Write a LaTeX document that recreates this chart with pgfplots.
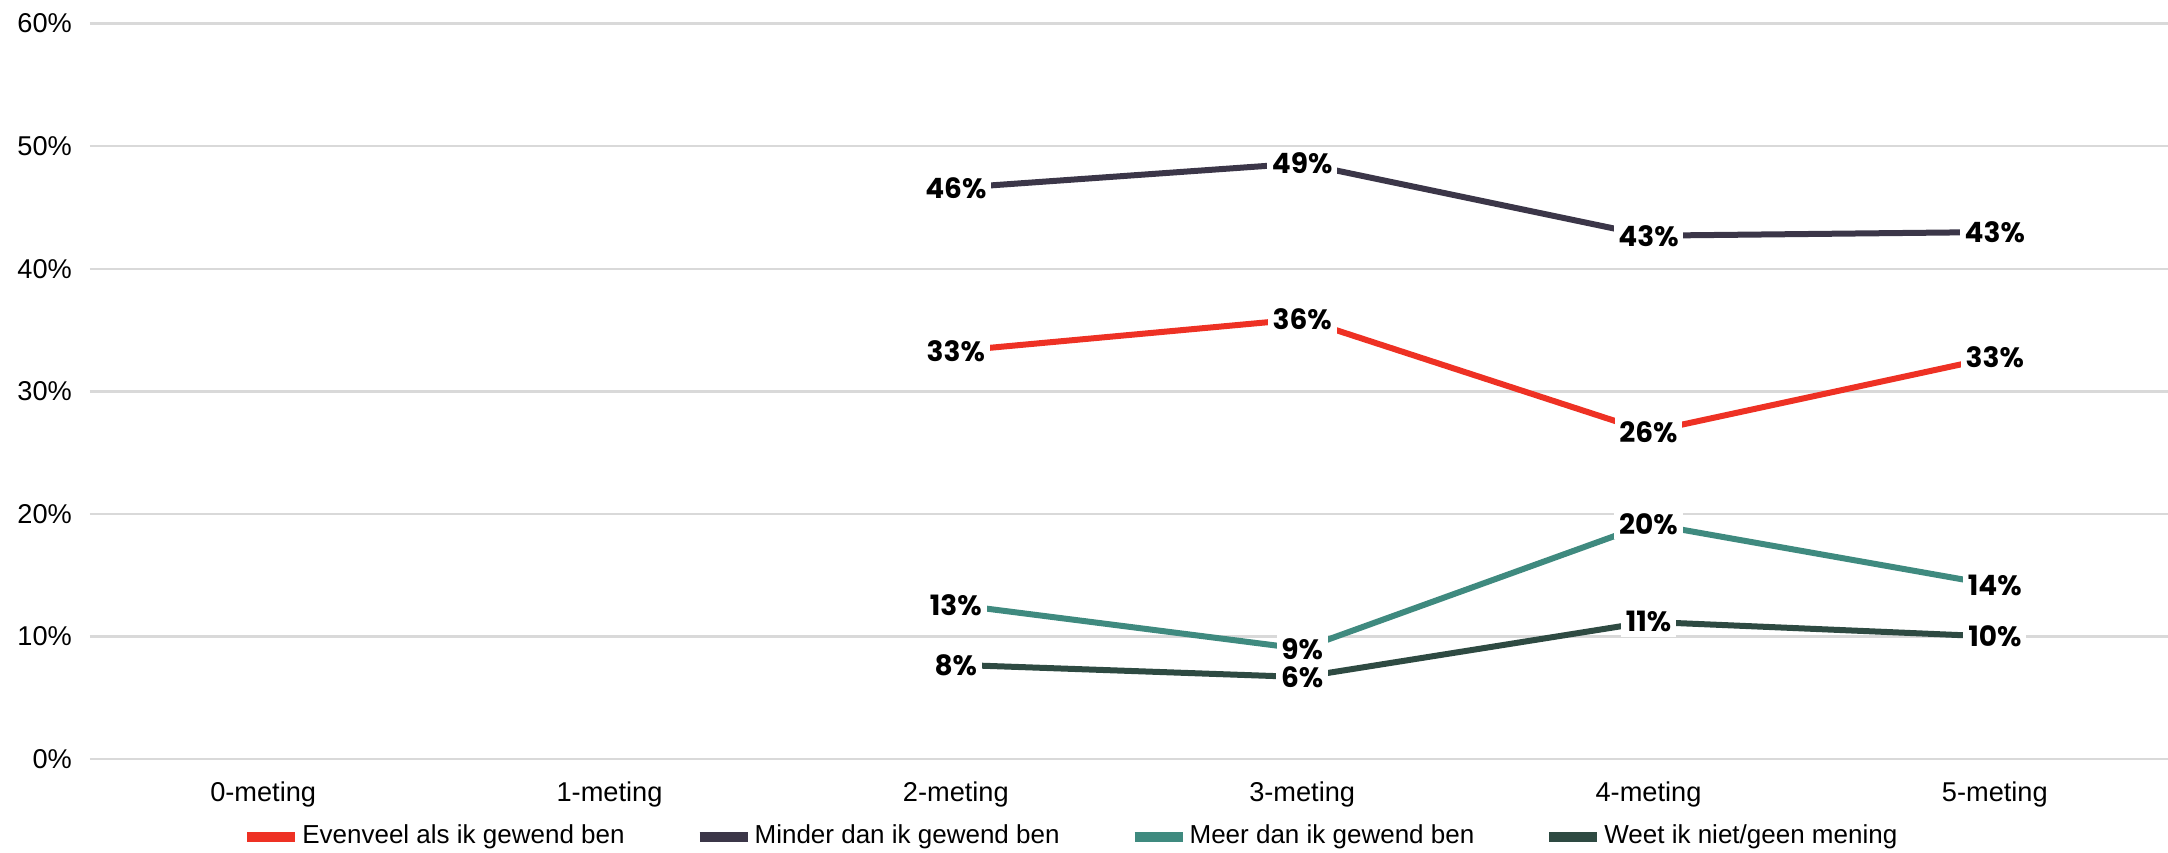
\documentclass[border=0pt]{standalone}
\usepackage{fontspec}
\setmainfont{Liberation Sans}
\newfontfamily\poppins{Poppins}
\usepackage{pgfplots}
\pgfplotsset{compat=1.18}
\definecolor{cRed}{HTML}{EE3124}
\definecolor{cPur}{HTML}{3B3648}
\definecolor{cTeal}{HTML}{3F8A7F}
\definecolor{cDark}{HTML}{2E4A42}
\definecolor{cGrid}{HTML}{D9D9D9}
\begin{document}
\begin{tikzpicture}
\begin{axis}[
  scale only axis,
  width=519.5pt, height=183.9pt,
  xmin=-0.5, xmax=5.5,
  ymin=0, ymax=60,
  axis line style={draw=none},
  tick style={draw=none},
  xtick={0,1,2,3,4,5},
  xticklabels={0-meting,1-meting,2-meting,3-meting,4-meting,5-meting},
  ytick={0,10,20,30,40,50,60},
  yticklabels={0\%,10\%,20\%,30\%,40\%,50\%,60\%},
  ymajorgrids,
  major grid style={cGrid, line width=0.6pt},
  tick label style={font=\fontsize{6.8}{8}\selectfont},
  xticklabel style={yshift=-2pt},
  yticklabel style={xshift=-1pt},
  clip=false,
  point meta=explicit symbolic,
  nodes near coords,
  nodes near coords align={center},
  every node near coord/.append style={font=\poppins\bfseries\fontsize{7}{8}\selectfont, fill=white, inner sep=1.2pt, anchor=center, text=black},
  legend columns=4,
  legend style={draw=none, at={(0.472,-0.106)}, anchor=center, font=\fontsize{6.5}{8}\selectfont,
    /tikz/every even column/.append style={column sep=17pt},
    nodes={inner xsep=0.5pt}},
  legend image code/.code={\draw[line width=2.5pt] (0pt,0pt) -- (12pt,0pt);},
]
\addplot[cRed, line width=1.5pt] coordinates {(2,33.3)[33\%] (3,35.9)[36\%] (4,26.7)[26\%] (5,32.8)[33\%]};
\addlegendentry{Evenveel als ik gewend ben}
\addplot[cPur, line width=1.5pt] coordinates {(2,46.6)[46\%] (3,48.6)[49\%] (4,42.7)[43\%] (5,43.0)[43\%]};
\addlegendentry{Minder dan ik gewend ben}
\addplot[cTeal, line width=1.5pt] coordinates {(2,12.6)[13\%] (3,9.0)[9\%] (4,19.2)[20\%] (5,14.2)[14\%]};
\addlegendentry{Meer dan ik gewend ben}
\addplot[cDark, line width=1.5pt] coordinates {(2,7.7)[8\%] (3,6.7)[6\%] (4,11.2)[11\%] (5,10.0)[10\%]};
\addlegendentry{Weet ik niet/geen mening}
\end{axis}
\pgfresetboundingbox
\path[use as bounding box] (-22.5pt,-23.45pt) rectangle (519.5pt,189.8pt);
\end{tikzpicture}
\end{document}
